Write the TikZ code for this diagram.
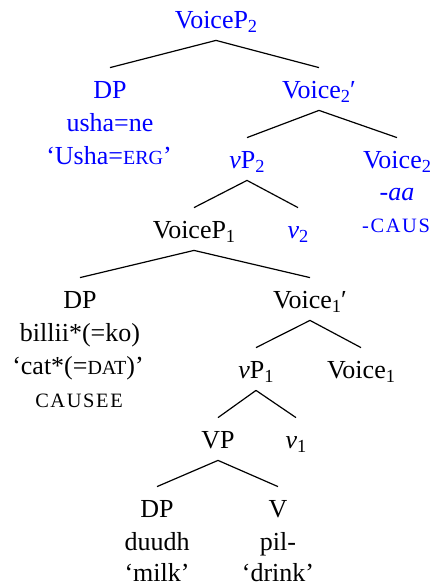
\documentclass[tikz,border=0pt]{standalone}
\usepackage{fontspec}
\setmainfont{Liberation Serif}
% faked small capitals: plain for glosses, tracked for the labels
\newcommand\fsc[1]{{\fontsize{10}{10}\selectfont #1}}
\newcommand\wsc[1]{{\fontsize{10.2}{10}\selectfont\addfontfeature{LetterSpace=8}#1}}
\newcommand\sub[1]{\raisebox{-2pt}{\fontsize{9.2}{10}\selectfont #1}}
\tikzset{
  cat/.style={anchor=base, inner sep=0pt, text height=15pt, text depth=6pt},
  lex/.style={anchor=base, inner sep=0pt},
  bl/.style={text=blue},
  branch/.style={draw=black, line width=0.6pt}
}
\begin{document}
\begin{tikzpicture}[x=0.5pt, y=-0.5pt, font=\fontsize{13}{16.5}\selectfont]
\useasboundingbox (0,0) rectangle (433,584);

% top layer: the causative voice head and its specifier
\node[cat,bl] (vp2top) at (216,28) {VoiceP\sub{2}};
\node[cat,bl] (dpa) at (110,98) {DP};
\node[lex,bl] (dpa1) at (110,131) {usha=ne};
\node[lex,bl] (dpa2) at (109,164) {‘Usha=\fsc{ERG}’};
\node[cat,bl] (voice2bar) at (319,98) {Voice\sub{2}′};
\node[cat,bl] (littlevp2) at (247,168) {\textit{v}P\sub{2}};
\node[cat,bl] (voice2) at (397,168) {Voice\sub{2}};
\node[lex,bl] (voice2a) at (397,200) {-\textit{aa}};
\node[lex,bl] (voice2b) at (396,232) {\wsc{-CAUS}};
\node[cat,bl] (littlev2) at (298,238) {\textit{v}\sub{2}};

% embedded layer: the causee and the lower verb phrase
\node[cat] (voicep1) at (194,238) {VoiceP\sub{1}};
\node[cat] (dpb) at (80,308) {DP};
\node[lex] (dpb1) at (80,341) {billii*(=ko)};
\node[lex] (dpb2) at (78,374) {‘cat*(=\fsc{DAT})’};
\node[lex] (dpb3) at (79,407) {\wsc{CAUSEE}};
\node[cat] (voice1bar) at (310,308) {Voice\sub{1}′};
\node[cat] (littlevp1) at (256,378) {\textit{v}P\sub{1}};
\node[cat] (voice1) at (361,378) {Voice\sub{1}};
\node[cat] (vp) at (218,448) {VP};
\node[cat] (littlev1) at (296,448) {\textit{v}\sub{1}};
\node[cat] (dpc) at (157,517) {DP};
\node[lex] (dpc1) at (157,550) {duudh};
\node[lex] (dpc2) at (157,581) {‘milk’};
\node[cat] (verb) at (278,517) {V};
\node[lex] (verb1) at (278,550) {pil-};
\node[lex] (verb2) at (278,581) {‘drink’};

% branches
\foreach \p/\c in {vp2top/dpa, vp2top/voice2bar,
                   voice2bar/littlevp2, voice2bar/voice2,
                   littlevp2/voicep1, littlevp2/littlev2,
                   voicep1/dpb, voicep1/voice1bar,
                   voice1bar/littlevp1, voice1bar/voice1,
                   littlevp1/vp, littlevp1/littlev1,
                   vp/dpc, vp/verb}
  \draw[branch] (\p.south) -- (\c.north);
\end{tikzpicture}
\end{document}
